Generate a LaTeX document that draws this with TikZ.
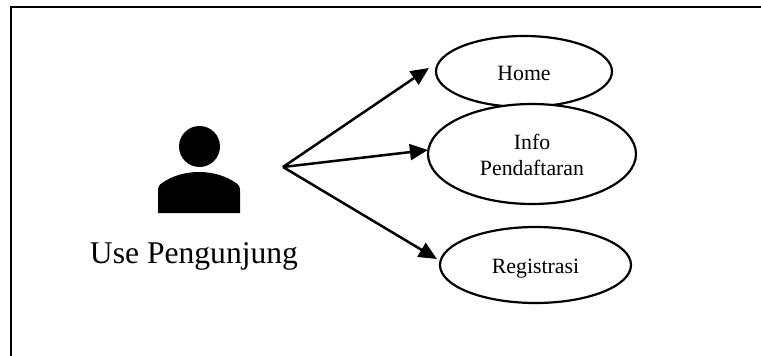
\documentclass[tikz,border=0pt]{standalone}
\usepackage{fontspec}
\setmainfont{Liberation Serif}
\usetikzlibrary{arrows.meta,shapes.geometric}
\newcommand{\ucline}[2]{\raisebox{#1}[16pt][0pt]{#2}}
\tikzset{
 uc/.style={draw,ellipse,line width=2.2pt,fill=white,inner sep=0pt,align=center,font=\fontsize{21.8pt}{26pt}\selectfont},
 conn/.style={line width=2.5pt,-{Triangle[length=18pt,width=16pt]}},
 lbl/.style={inner sep=0pt,anchor=base,font=\fontsize{31.6pt}{36pt}\selectfont},
 frameline/.style={line width=2.2pt}
}
\begin{document}
\begin{tikzpicture}[x=1pt,y=-1pt]
\useasboundingbox (0,0) rectangle (761,356);
\draw[frameline] (11,356) -- (11,7) -- (761,7);
% actor
\fill (199.5,146.5) circle (20.5);
\fill (158,213) -- (158,191) .. controls (158,187) and (159,185) .. (162,183) .. controls (172,176) and (185,172) .. (199,172) .. controls (213,172) and (226,176) .. (236,183) .. controls (239,185) and (240,187) .. (240,191) -- (240,213) -- cycle;
\node[lbl] (actor) at (194,263) {Use Pengunjung};
\coordinate (hub) at (283,167);
% use cases
\node[uc,minimum width=176pt,minimum height=71pt] (home) at (524,71.5) {\ucline{-1pt}{Home}};
\node[uc,minimum width=208pt,minimum height=100pt] (info) at (532,154) {\ucline{0pt}{Info}\\\ucline{0pt}{Pendaftaran}};
\node[uc,minimum width=191pt,minimum height=76pt] (reg) at (535.5,265) {\ucline{-0.3pt}{Registrasi}};
\draw[conn] (hub) -- ([shift={(-6,-3.5)}]home.west);
\draw[conn] (hub) -- ([shift={(1,-4)}]info.west);
\draw[conn] (hub) -- ([shift={(-2,-6)}]reg.west);
\end{tikzpicture}
\end{document}
